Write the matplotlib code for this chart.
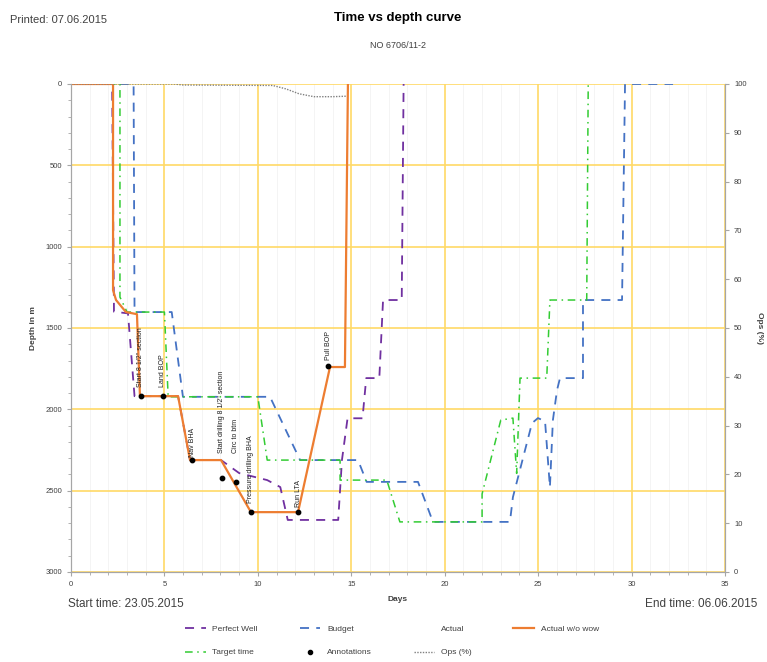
import matplotlib
matplotlib.use("Agg")
import matplotlib.pyplot as plt
from matplotlib.lines import Line2D
from matplotlib.ticker import MultipleLocator

plt.rcParams["font.family"] = ["Liberation Sans", "DejaVu Sans"]

# dados (dias, profundidade em m)
perfect_days = [0, 2.2, 2.3, 3.05, 3.4, 5.73, 6.37, 8.03, 9.0, 10.5, 11.2, 11.6, 14.3, 14.5, 14.8, 15.6, 15.8, 16.5, 16.7, 17.7, 17.8]
perfect_depth = [0, 0, 1400, 1410, 1919, 1919, 2312, 2312, 2392, 2435, 2478, 2680, 2680, 2312, 2055, 2055, 1808, 1808, 1328, 1328, 0]

budget_days = [0, 3.35, 3.4, 5.39, 5.99, 10.65, 12.26, 15.36, 15.82, 18.57, 19.37, 23.49, 23.65, 24.67, 24.99, 25.37, 25.63, 25.79, 26.01, 26.17, 27.4, 27.4, 29.49, 29.65, 32.22]
budget_depth = [0, 0, 1402, 1402, 1923, 1923, 2312, 2312, 2446, 2446, 2692, 2692, 2540, 2085, 2054, 2073, 2478, 2066, 1882, 1808, 1808, 1328, 1328, 0, 0]

target_days = [0, 2.62, 2.62, 3.0, 5.0, 5.2, 10.0, 10.5, 14.4, 14.4, 16.9, 17.6, 22.0, 22.0, 23.0, 23.65, 23.85, 24.03, 25.46, 25.63, 27.6, 27.68]
target_depth = [0, 0, 1310, 1402, 1402, 1923, 1923, 2312, 2312, 2435, 2435, 2692, 2692, 2520, 2066, 2054, 2394, 1808, 1808, 1328, 1328, 0]

actual_days = [0, 2.25, 2.25, 2.41, 2.94, 3.53, 3.69, 5.73, 6.37, 8.03, 9.63, 12.15, 13.86, 14.66, 14.82]
actual_depth = [0, 0, 1267, 1328, 1402, 1415, 1919, 1919, 2312, 2312, 2632, 2632, 1740, 1740, 0]

ops_days = [0, 2.2, 5.5, 6.0, 10.8, 11.5, 12.2, 13.0, 14.0, 14.75]
ops_pct = [100, 100, 100, 99.8, 99.7, 99.0, 98.0, 97.4, 97.4, 97.5]

annot_days = [3.72, 4.9, 6.48, 8.06, 8.81, 9.62, 12.15, 13.77]
annot_depth = [1919, 1919, 2312, 2421, 2446, 2630, 2630, 1732]
annot_text = ['Start 8 1/2" section', "Land BOP", "Nav BHA", 'Start drilling 8 1/2" section',
              "Circ to btm", "Pressure drilling BHA", "Run LTA", "Pull BOP"]
# distancia do texto acima do ponto (pt)
annot_offset = [6.5, 6.5, 2, 18, 21, 6.5, 3.5, 4]

PURPLE = "#7030A0"
BLUE = "#4472C4"
GREEN = "#33CC33"
ORANGE = "#ED7D31"
GRID = "#FFD966"
TXT = "#404040"

fig = plt.figure(figsize=(7.67, 6.62), dpi=100)
ax = fig.add_axes([71 / 767, 1 - 572 / 662, 654 / 767, 488 / 662])
ax2 = ax.twinx()

ax.set_xlim(0, 35)
ax.set_ylim(3000, 0)
ax.xaxis.set_major_locator(MultipleLocator(5))
ax.xaxis.set_minor_locator(MultipleLocator(1))
ax.yaxis.set_major_locator(MultipleLocator(500))
ax.yaxis.set_minor_locator(MultipleLocator(100))
ax.grid(which="major", color=GRID, lw=1.2)
ax.grid(which="minor", axis="x", color="#F2F2F2", lw=0.6)
ax.set_axisbelow(True)

ax.plot(perfect_days, perfect_depth, color=PURPLE, lw=1.3, dashes=(5, 4))
ax.plot(budget_days, budget_depth, color=BLUE, lw=1.3, dashes=(5, 4))
ax.plot(target_days, target_depth, color=GREEN, lw=1.1, dashes=(5, 3, 1, 3))
ax.plot(actual_days, actual_depth, color=ORANGE, lw=1.6)
ax.scatter(annot_days, annot_depth, s=10, color="black", zorder=5)
for d, dep, t, off in zip(annot_days, annot_depth, annot_text, annot_offset):
    ax.annotate(t, (d, dep), xytext=(0, off), textcoords="offset points",
                rotation=90, ha="center", va="bottom", fontsize=5, color="#202020")

ax2.set_ylim(0, 100)
ax2.yaxis.set_major_locator(MultipleLocator(10))
ax2.plot(ops_days, ops_pct, color="#808080", lw=1.0, ls=(0, (1, 1)))

for a in (ax, ax2):
    for s in a.spines.values():
        s.set_color("#A6A6A6")
    a.spines["top"].set_visible(False)
    a.tick_params(which="both", labelsize=5.5, colors="#A6A6A6", labelcolor=TXT, length=3)
    a.tick_params(which="minor", length=2)

ax.set_xlabel("Days", fontsize=6, fontweight="bold", color=TXT, labelpad=6)
ax.set_ylabel("Depth in m", fontsize=6, fontweight="bold", color=TXT, labelpad=6)
ax2.set_ylabel("Ops (%)", fontsize=6, fontweight="bold", color=TXT, rotation=270, labelpad=12)

fig.text(10 / 767, 1 - 20 / 662, "Printed: 07.06.2015", fontsize=8, color=TXT, va="center")
fig.text(398 / 767, 1 - 18 / 662, "Time vs depth curve", fontsize=9.5, fontweight="bold", ha="center", va="center")
fig.text(398 / 767, 1 - 45 / 662, "NO 6706/11-2", fontsize=6.5, color=TXT, ha="center", va="center")
fig.text(68 / 767, 1 - 604 / 662, "Start time: 23.05.2015", fontsize=8.5, color=TXT, va="center")
fig.text(757 / 767, 1 - 604 / 662, "End time: 06.06.2015", fontsize=8.5, color=TXT, va="center", ha="right")

handles = [
    Line2D([], [], color=PURPLE, lw=1.3, dashes=(5, 4)),
    Line2D([], [], color=GREEN, lw=1.1, dashes=(5, 3, 1, 3)),
    Line2D([], [], color=BLUE, lw=1.3, dashes=(5, 4)),
    Line2D([], [], color="black", ls="none", marker="o", markersize=3),
    Line2D([], [], color="none"),
    Line2D([], [], color="#808080", lw=1.0, ls=(0, (1, 1))),
    Line2D([], [], color=ORANGE, lw=1.6),
]
labels = ["Perfect Well", "Target time", "Budget", "Annotations", "Actual", "Ops (%)", "Actual w/o wow"]
fig.legend(handles, labels, loc="upper left", bbox_to_anchor=(185 / 767, 1 - 625 / 662), ncol=4,
           frameon=False, fontsize=6, handlelength=2.5, columnspacing=5, labelspacing=1.9,
           labelcolor=TXT, borderaxespad=0, borderpad=0)

fig.savefig("out.png", dpi=100)
